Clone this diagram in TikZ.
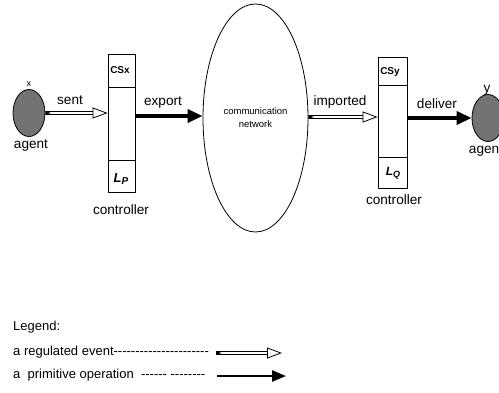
\documentclass[tikz,border=0pt]{standalone}
\usepackage{fontspec}
\setmainfont{Liberation Sans}[Ligatures=TeXOff]
\usetikzlibrary{arrows.meta,shapes.geometric,positioning,calc}

\definecolor{agentgray}{gray}{0.45}

\tikzset{
  agent/.style={ellipse, draw, line width=0.8pt, fill=agentgray, inner sep=0pt, minimum width=32pt, minimum height=47pt},
  ctrl/.style={rectangle, draw, line width=0.8pt, inner sep=0pt},
  lbl/.style={font=\fontsize{13.6}{15}\selectfont, inner sep=0pt},
  lgd/.style={font=\fontsize{13}{14}\selectfont, inner sep=0pt, anchor=west},
  regulated/.style={double, double distance=2.6pt, line width=0.75pt,
    {Latex[reversed,length=6pt,width=4pt]}-{Triangle[fill=white,line width=0.8pt,length=15pt,width=11pt]}},
  primitive/.style={line width=3.5pt, -{Triangle[length=15pt,width=13pt]}},
}

\begin{document}
\begin{tikzpicture}[x=1pt, y=-1pt, line join=round]
    \useasboundingbox (0,0) rectangle (499,392);

    % agents
    \node[agent] (agentx) at (29,113) {};
    \node[agent] (agenty) at (488,118) {};
    \node[lbl, font=\fontsize{9}{10}\selectfont] (xlbl) at (29,84) {x};
    \node[lbl] (ylbl) at (487,90) {y};
    \node[lbl] (agentxlbl) at (31,146) {agent};
    \node[lbl] (agentylbl) at (486,151) {agent};

    % controllers
    \node[ctrl, minimum width=27pt, minimum height=138pt] (ctrlx) at (121.5,123) {};
    \draw[line width=1pt] ($(ctrlx.north west)+(0,34)$) -- ($(ctrlx.north east)+(0,34)$);
    \draw[line width=1pt] ($(ctrlx.north west)+(0,107)$) -- ($(ctrlx.north east)+(0,107)$);
    \node[lbl, font=\fontsize{10}{12}\selectfont\bfseries] (csx) at (120,70) {CSx};
    \node[lbl, font=\fontsize{13}{15}\selectfont\bfseries\itshape] (lp) at (121,179) {L\raisebox{-2.5pt}{\fontsize{10}{11}\selectfont P}};
    \node[lbl] (ctrlxlbl) at (121,210) {controller};

    \node[ctrl, minimum width=29pt, minimum height=131pt] (ctrly) at (392.5,122.5) {};
    \draw[line width=1pt] ($(ctrly.north west)+(0,29)$) -- ($(ctrly.north east)+(0,29)$);
    \draw[line width=1pt] ($(ctrly.north west)+(0,101)$) -- ($(ctrly.north east)+(0,101)$);
    \node[lbl, font=\fontsize{10}{12}\selectfont\bfseries] (csy) at (390,72) {CSy};
    \node[lbl, font=\fontsize{12}{14}\selectfont\bfseries\itshape] (lq) at (393,173) {L\raisebox{-2pt}{\fontsize{9}{10}\selectfont Q}};
    \node[lbl] (ctrlylbl) at (394,200) {controller};

    % network
    \node[ellipse, draw, line width=0.8pt, inner sep=0pt, minimum width=105pt, minimum height=228pt,
          align=center, font=\fontsize{9.5}{13}\selectfont] (net) at (255.5,118) {communication\\network};

    % connectors
    \draw[regulated] (agentx.east) -- (ctrlx.west |- agentx.east);
    \draw[primitive] (ctrlx.east |- 0,116) -- (net.west |- 0,116);
    \draw[regulated] (net.east |- 0,117) -- (ctrly.west |- 0,117);
    \draw[primitive] (ctrly.east |- agenty.west) -- (agenty.west);
    \node[lbl] (sentlbl) at (70,100) {sent};
    \node[lbl] (exportlbl) at (163,103) {export};
    \node[lbl] (importedlbl) at (340,102) {imported};
    \node[lbl] (deliverlbl) at (437,104) {deliver};

    % legend
    \node[lgd] (lgdtitle) at (13,327) {Legend:};
    \node[lgd] (lgdreg) at (13,352) {a regulated event----------------------};
    \node[lgd] (lgdprim) at (13,375) {a\ \ primitive operation\ \ ------ --------};
    \coordinate (rega) at (216,353);
    \coordinate (regb) at (282,353);
    \coordinate (prima) at (217,376);
    \coordinate (primb) at (286,376);
    \draw[regulated] (rega) -- (regb);
    \draw[primitive, line width=2.5pt, -{Triangle[length=14pt,width=11pt]}] (prima) -- (primb);

\end{tikzpicture}
\end{document}
